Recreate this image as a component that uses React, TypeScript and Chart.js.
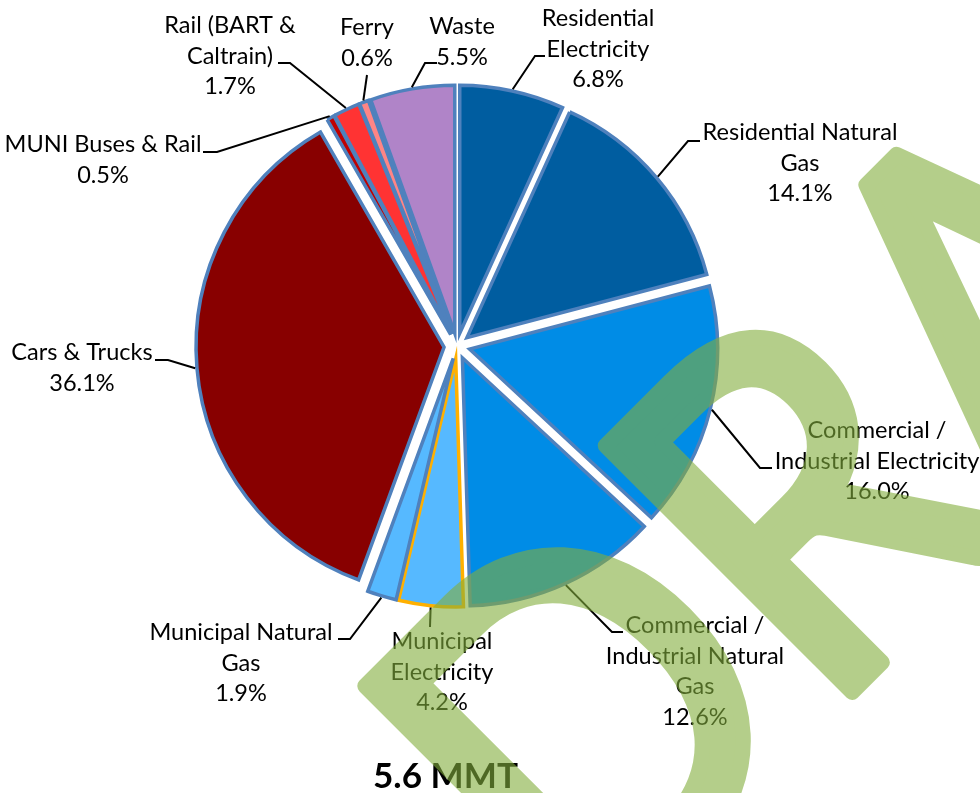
import React, { useEffect, useRef } from "react";
import { Chart, registerables } from "chart.js";

Chart.register(...registerables);

// ---------- data ----------
const CATEGORIES = [
  "Residential Electricity",
  "Residential Natural Gas",
  "Commercial / Industrial Electricity",
  "Commercial / Industrial Natural Gas",
  "Municipal Electricity",
  "Municipal Natural Gas",
  "Cars & Trucks",
  "MUNI Buses & Rail",
  "Rail (BART & Caltrain)",
  "Ferry",
  "Waste",
];
const SHARES = [6.8, 14.1, 16.0, 12.6, 4.2, 1.9, 36.1, 0.5, 1.7, 0.6, 5.5];
const LABEL_LINES = [
  ["Residential", "Electricity"],
  ["Residential Natural", "Gas"],
  ["Commercial /", "Industrial Electricity"],
  ["Commercial /", "Industrial Natural", "Gas"],
  ["Municipal", "Electricity"],
  ["Municipal Natural", "Gas"],
  ["Cars & Trucks"],
  ["MUNI Buses & Rail"],
  ["Rail (BART &", "Caltrain)"],
  ["Ferry"],
  ["Waste"],
];
const TOTAL_LABEL_NUM = "5.6";
const TOTAL_LABEL_UNIT = "MMT";
const WATERMARK = "DRAFT";

// ---------- styles ----------
const COLORS = [
  "#005DA0", "#005DA0", "#008CE6", "#008CE6", "#56B9FF", "#56B9FF",
  "#880000", "#C00000", "#FF3333", "#FF8585", "#B084C8",
];
const BORDERS = [
  "#4F81BD", "#4F81BD", "#4F81BD", "#4F81BD", "#FFB000", "#4F81BD",
  "#4F81BD", "#4F81BD", "#4F81BD", "#4F81BD", "#4F81BD",
];
const BORDER_W = 3.5;
const EXPLODE = 13;
const PIE_RADIUS = 248;
const FONT = "Lato, 'Open Sans', sans-serif";
// label layout: [centerX, firstBaseline, elbowX, elbowY, endX]
const LABEL_POS: number[][] = [
  [598, 26, 535, 56, 545],
  [800, 140, 688, 141, 700],
  [877, 438, 760, 468, 772],
  [695, 633, 612, 632, 623],
  [442, 649, 430, 627, 430],
  [241, 640, 350, 639, 338],
  [82, 360, 168, 360, 155],
  [103, 152, 217, 152, 203],
  [230, 33, 290, 63, 278],
  [367, 35, 367, 75, 367],
  [462, 34, 425, 63, 437],
];
const LINE_H = 30.5;

const explodePlugin = {
  id: "explode",
  beforeDatasetDraw(chart: any, args: any) {
    const meta = chart.getDatasetMeta(args.index);
    meta.data.forEach((arc: any) => {
      const mid = (arc.startAngle + arc.endAngle) / 2;
      arc.x += Math.cos(mid) * EXPLODE;
      arc.y += Math.sin(mid) * EXPLODE;
    });
  },
  afterDatasetDraw(chart: any, args: any) {
    const meta = chart.getDatasetMeta(args.index);
    meta.data.forEach((arc: any) => {
      const mid = (arc.startAngle + arc.endAngle) / 2;
      arc.x -= Math.cos(mid) * EXPLODE;
      arc.y -= Math.sin(mid) * EXPLODE;
    });
  },
};

const labelPlugin = {
  id: "sliceLabels",
  afterDatasetsDraw(chart: any) {
    const ctx = chart.ctx as CanvasRenderingContext2D;
    const meta = chart.getDatasetMeta(0);
    ctx.save();
    ctx.font = `100px ${FONT}`;
    const size = (100 * 195) / ctx.measureText("Residential Natural").width;
    ctx.font = `${size.toFixed(2)}px ${FONT}`;
    ctx.fillStyle = "#000";
    ctx.strokeStyle = "#000";
    ctx.lineWidth = 2;
    ctx.textAlign = "center";
    ctx.textBaseline = "alphabetic";
    meta.data.forEach((arc: any, i: number) => {
      const mid = (arc.startAngle + arc.endAngle) / 2;
      const r = EXPLODE + arc.outerRadius + BORDER_W / 2;
      const sx = arc.x + Math.cos(mid) * r;
      const sy = arc.y + Math.sin(mid) * r;
      const [cx, by, ex, ey, endX] = LABEL_POS[i];
      ctx.beginPath();
      ctx.moveTo(sx, sy);
      ctx.lineTo(ex, ey);
      ctx.lineTo(endX, ey);
      ctx.stroke();
      const lines = [...LABEL_LINES[i], SHARES[i].toFixed(1) + "%"];
      lines.forEach((t, k) => ctx.fillText(t, cx, by + k * LINE_H));
    });
    // total (bold, slightly condensed to mimic Calibri proportions)
    const full = `${TOTAL_LABEL_NUM} ${TOTAL_LABEL_UNIT}`;
    ctx.font = `bold 35px ${FONT}`;
    const tw = ctx.measureText(full).width;
    ctx.textAlign = "left";
    ctx.translate(373, 788);
    ctx.scale(145 / tw, 1);
    ctx.fillText(full, 0, 0);
    ctx.restore();
  },
};

const watermarkPlugin = {
  id: "watermark",
  afterDraw(chart: any) {
    const { ctx, width, height } = chart;
    const off = document.createElement("canvas");
    off.width = width;
    off.height = height;
    const o = off.getContext("2d")!;
    const WM_FONT = "Lato, sans-serif";
    o.font = `100px ${WM_FONT}`;
    const cap100 = o.measureText("D").actualBoundingBoxAscent;
    const size = (100 * 350) / cap100;
    o.font = `${size.toFixed(1)}px ${WM_FONT}`;
    const mD = o.measureText("D");
    const sxScale = 340 / mD.width;
    const lx = -mD.actualBoundingBoxLeft * sxScale;
    const ty = -mD.actualBoundingBoxAscent;
    const ang = -Math.PI / 4;
    const c = Math.cos(ang), s = Math.sin(ang);
    const rx = lx * c - ty * s;
    const ry = lx * s + ty * c;
    const ox = 360 - rx, oy = 690 - ry;
    o.translate(ox, oy);
    o.rotate(ang);
    o.scale(sxScale, 1);
    o.fillStyle = "rgb(131,174,60)";
    o.strokeStyle = "rgb(131,174,60)";
    o.lineWidth = 16;
    o.lineJoin = "round";
    o.textBaseline = "alphabetic";
    o.textAlign = "left";
    o.fillText(WATERMARK, 0, 0);
    o.strokeText(WATERMARK, 0, 0);
    ctx.save();
    ctx.globalAlpha = 0.6;
    ctx.drawImage(off, 0, 0);
    ctx.restore();
  },
};

export default function App() {
  const ref = useRef<HTMLCanvasElement>(null);
  useEffect(() => {
    document.body.style.margin = "0";
    const canvas = ref.current!;
    const chart = new Chart(canvas, {
      type: "pie",
      data: {
        labels: CATEGORIES,
        datasets: [
          {
            data: SHARES,
            backgroundColor: COLORS,
            borderColor: BORDERS,
            borderWidth: BORDER_W,
            borderJoinStyle: "miter",
            radius: PIE_RADIUS,
            clip: false,
          } as any,
        ],
      },
      options: {
        responsive: false,
        animation: false,
        devicePixelRatio: 1,
        events: [],
        radius: PIE_RADIUS,
        layout: { padding: { left: 0, right: 66, top: 0, bottom: 101 } },
        plugins: {
          legend: { display: false },
          tooltip: { enabled: false },
          title: { display: false },
        },
      } as any,
      plugins: [explodePlugin, labelPlugin, watermarkPlugin],
    });
    return () => chart.destroy();
  }, []);
  return (
    <canvas
      ref={ref}
      width={980}
      height={793}
      style={{ display: "block", width: 980, height: 793 }}
    />
  );
}
